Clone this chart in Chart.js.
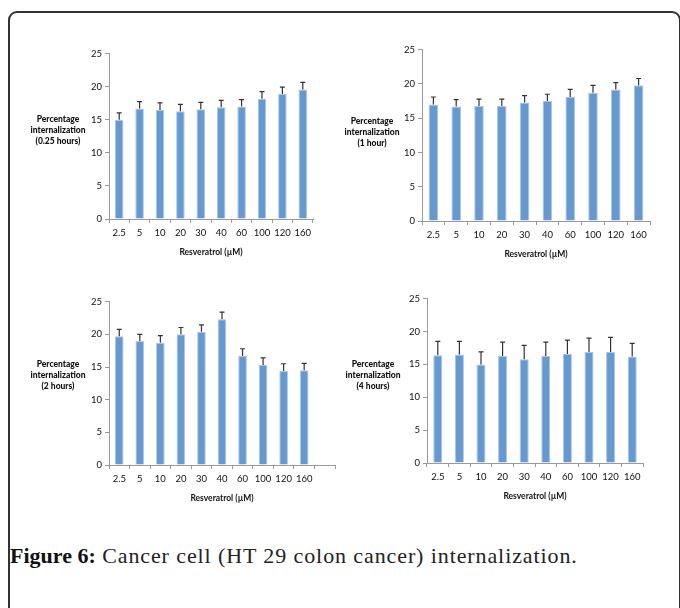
<!DOCTYPE html>
<html>
<head>
<meta charset="utf-8">
<script src="https://cdn.jsdelivr.net/npm/chart.js@4"></script>
<style>
  html, body { margin:0; padding:0; background:#fff; width:680px; height:608px; overflow:hidden; }
  .frame { position:absolute; left:8px; top:11px; width:673px; height:640px; border:2px solid #333; border-radius:9px; box-sizing:border-box; }
  canvas { position:absolute; }
  .ytitle { position:absolute; font-family:Lato, "Open Sans", sans-serif; font-weight:900; font-size:8.5px; line-height:11px; text-align:center; color:#111; width:90px; }
  .caption { position:absolute; left:10px; top:543px; font-family:"Liberation Serif", "DejaVu Serif", serif; font-size:22px; letter-spacing:0.9px; color:#222; white-space:nowrap; }
  .caption b { font-weight:bold; color:#111; letter-spacing:0; }
</style>
</head>
<body>
<div class="frame"></div>

<canvas id="c1"></canvas>
<canvas id="c2"></canvas>
<canvas id="c3"></canvas>
<canvas id="c4"></canvas>

<div class="ytitle" style="left:13px; top:114px;">Percentage<br>internalization<br>(0.25 hours)</div>
<div class="ytitle" style="left:327px; top:116px;">Percentage<br>internalization<br>(1 hour)</div>
<div class="ytitle" style="left:13px; top:359px;">Percentage<br>internalization<br>(2 hours)</div>
<div class="ytitle" style="left:328px; top:359px;">Percentage<br>internalization<br>(4 hours)</div>

<div class="caption"><b>Figure 6:</b> Cancer cell (HT 29 colon cancer) internalization.</div>

<script>
// ---- data ----
const concentrations = ["2.5", "5", "10", "20", "30", "40", "60", "100", "120", "160"];
const yTicks = [0, 5, 10, 15, 20, 25];
const xTitle = "Resveratrol (µM)";

const values025h = [15.0, 16.7, 16.5, 16.3, 16.6, 16.9, 17.0, 18.2, 18.9, 19.6];
const errors025h = [1.05, 1.05, 1.05, 1.05, 1.05, 1.05, 1.05, 1.05, 1.05, 1.05];

const values1h = [17.0, 16.7, 16.8, 16.8, 17.3, 17.5, 18.1, 18.7, 19.2, 19.8];
const errors1h = [1.1, 1.0, 1.0, 1.0, 1.0, 1.0, 1.1, 1.1, 1.0, 1.0];

const values2h = [19.7, 19.0, 18.7, 20.0, 20.4, 22.3, 16.7, 15.3, 14.4, 14.5];
const errors2h = [1.05, 1.0, 1.1, 1.05, 1.05, 1.1, 1.1, 1.1, 1.1, 1.05];

const values4h = [16.4, 16.5, 15.0, 16.3, 15.8, 16.3, 16.6, 16.9, 16.9, 16.2];
const errors4h = [2.1, 2.0, 1.9, 2.1, 2.1, 2.1, 2.1, 2.1, 2.2, 2.0];

// ---- error bar plugin ----
const errorBars = {
  id: 'errorBars',
  afterDatasetsDraw(chart) {
    const ctx = chart.ctx;
    const ys = chart.scales.y;
    chart.data.datasets.forEach((ds, di) => {
      const meta = chart.getDatasetMeta(di);
      const errs = ds.errors || [];
      meta.data.forEach((el, i) => {
        if (ds.data[i] == null) return;
        const top = ys.getPixelForValue(ds.data[i] + errs[i]);
        ctx.save();
        ctx.strokeStyle = '#333';
        ctx.lineWidth = 1.2;
        ctx.beginPath();
        ctx.moveTo(el.x, el.y);
        ctx.lineTo(el.x, top);
        ctx.moveTo(el.x - 2.5, top);
        ctx.lineTo(el.x + 2.5, top);
        ctx.stroke();
        ctx.restore();
      });
    });
  }
};

function makePanel(id, box, labels, values, errors) {
  const cv = document.getElementById(id);
  const padTop = 8, padRight = 4, yW = 26, xH = 38;
  const w = box.right - box.left + yW + padRight;
  const h = box.bottom - box.top + padTop + xH;
  cv.style.left = (box.left - yW) + 'px';
  cv.style.top = (box.top - padTop) + 'px';
  cv.width = w; cv.height = h;
  cv.style.width = w + 'px'; cv.style.height = h + 'px';
  new Chart(cv, {
    type: 'bar',
    data: {
      labels: labels,
      datasets: [{
        data: values,
        errors: errors,
        backgroundColor: '#6699cf',
        borderColor: '#a9c7e6',
        borderWidth: 1,
        barPercentage: 0.42,
        categoryPercentage: 1.0
      }]
    },
    options: {
      responsive: false,
      animation: false,
      devicePixelRatio: 1,
      layout: { padding: { top: padTop, right: padRight, left: 0, bottom: 0 } },
      plugins: { legend: { display: false }, tooltip: { enabled: false } },
      scales: {
        x: {
          offset: true,
          afterFit(s) { s.height = xH; },
          grid: { display: true, drawOnChartArea: false, offset: true, tickLength: 4, color: '#9a9a9a' },
          border: { display: true, color: '#9a9a9a', width: 1 },
          ticks: { color: '#111', font: { family: 'Lato', size: 9.5 }, padding: 4, maxRotation: 0, autoSkip: false },
          title: { display: true, text: xTitle, color: '#111', font: { family: 'Lato', size: 8.5, weight: 'bold' }, padding: { top: 5, bottom: 0 } }
        },
        y: {
          min: 0, max: 25,
          afterFit(s) { s.width = yW; },
          afterBuildTicks(s) { s.ticks = yTicks.map(v => ({ value: v })); },
          grid: { display: true, drawOnChartArea: false, tickLength: 4, color: '#9a9a9a' },
          border: { display: true, color: '#9a9a9a', width: 1 },
          ticks: { color: '#111', font: { family: 'Lato', size: 9.5 }, padding: 3 }
        }
      }
    },
    plugins: [errorBars]
  });
}

makePanel('c1', { left: 109, right: 313, top: 53, bottom: 219 }, concentrations, values025h, errors025h);
makePanel('c2', { left: 422, right: 650, top: 49, bottom: 221 }, concentrations, values1h, errors1h);
makePanel('c3', { left: 109, right: 335, top: 301, bottom: 465 }, concentrations.concat(['']), values2h.concat([null]), errors2h.concat([0]));
makePanel('c4', { left: 427, right: 643, top: 298, bottom: 463 }, concentrations, values4h, errors4h);
</script>
</body>
</html>
